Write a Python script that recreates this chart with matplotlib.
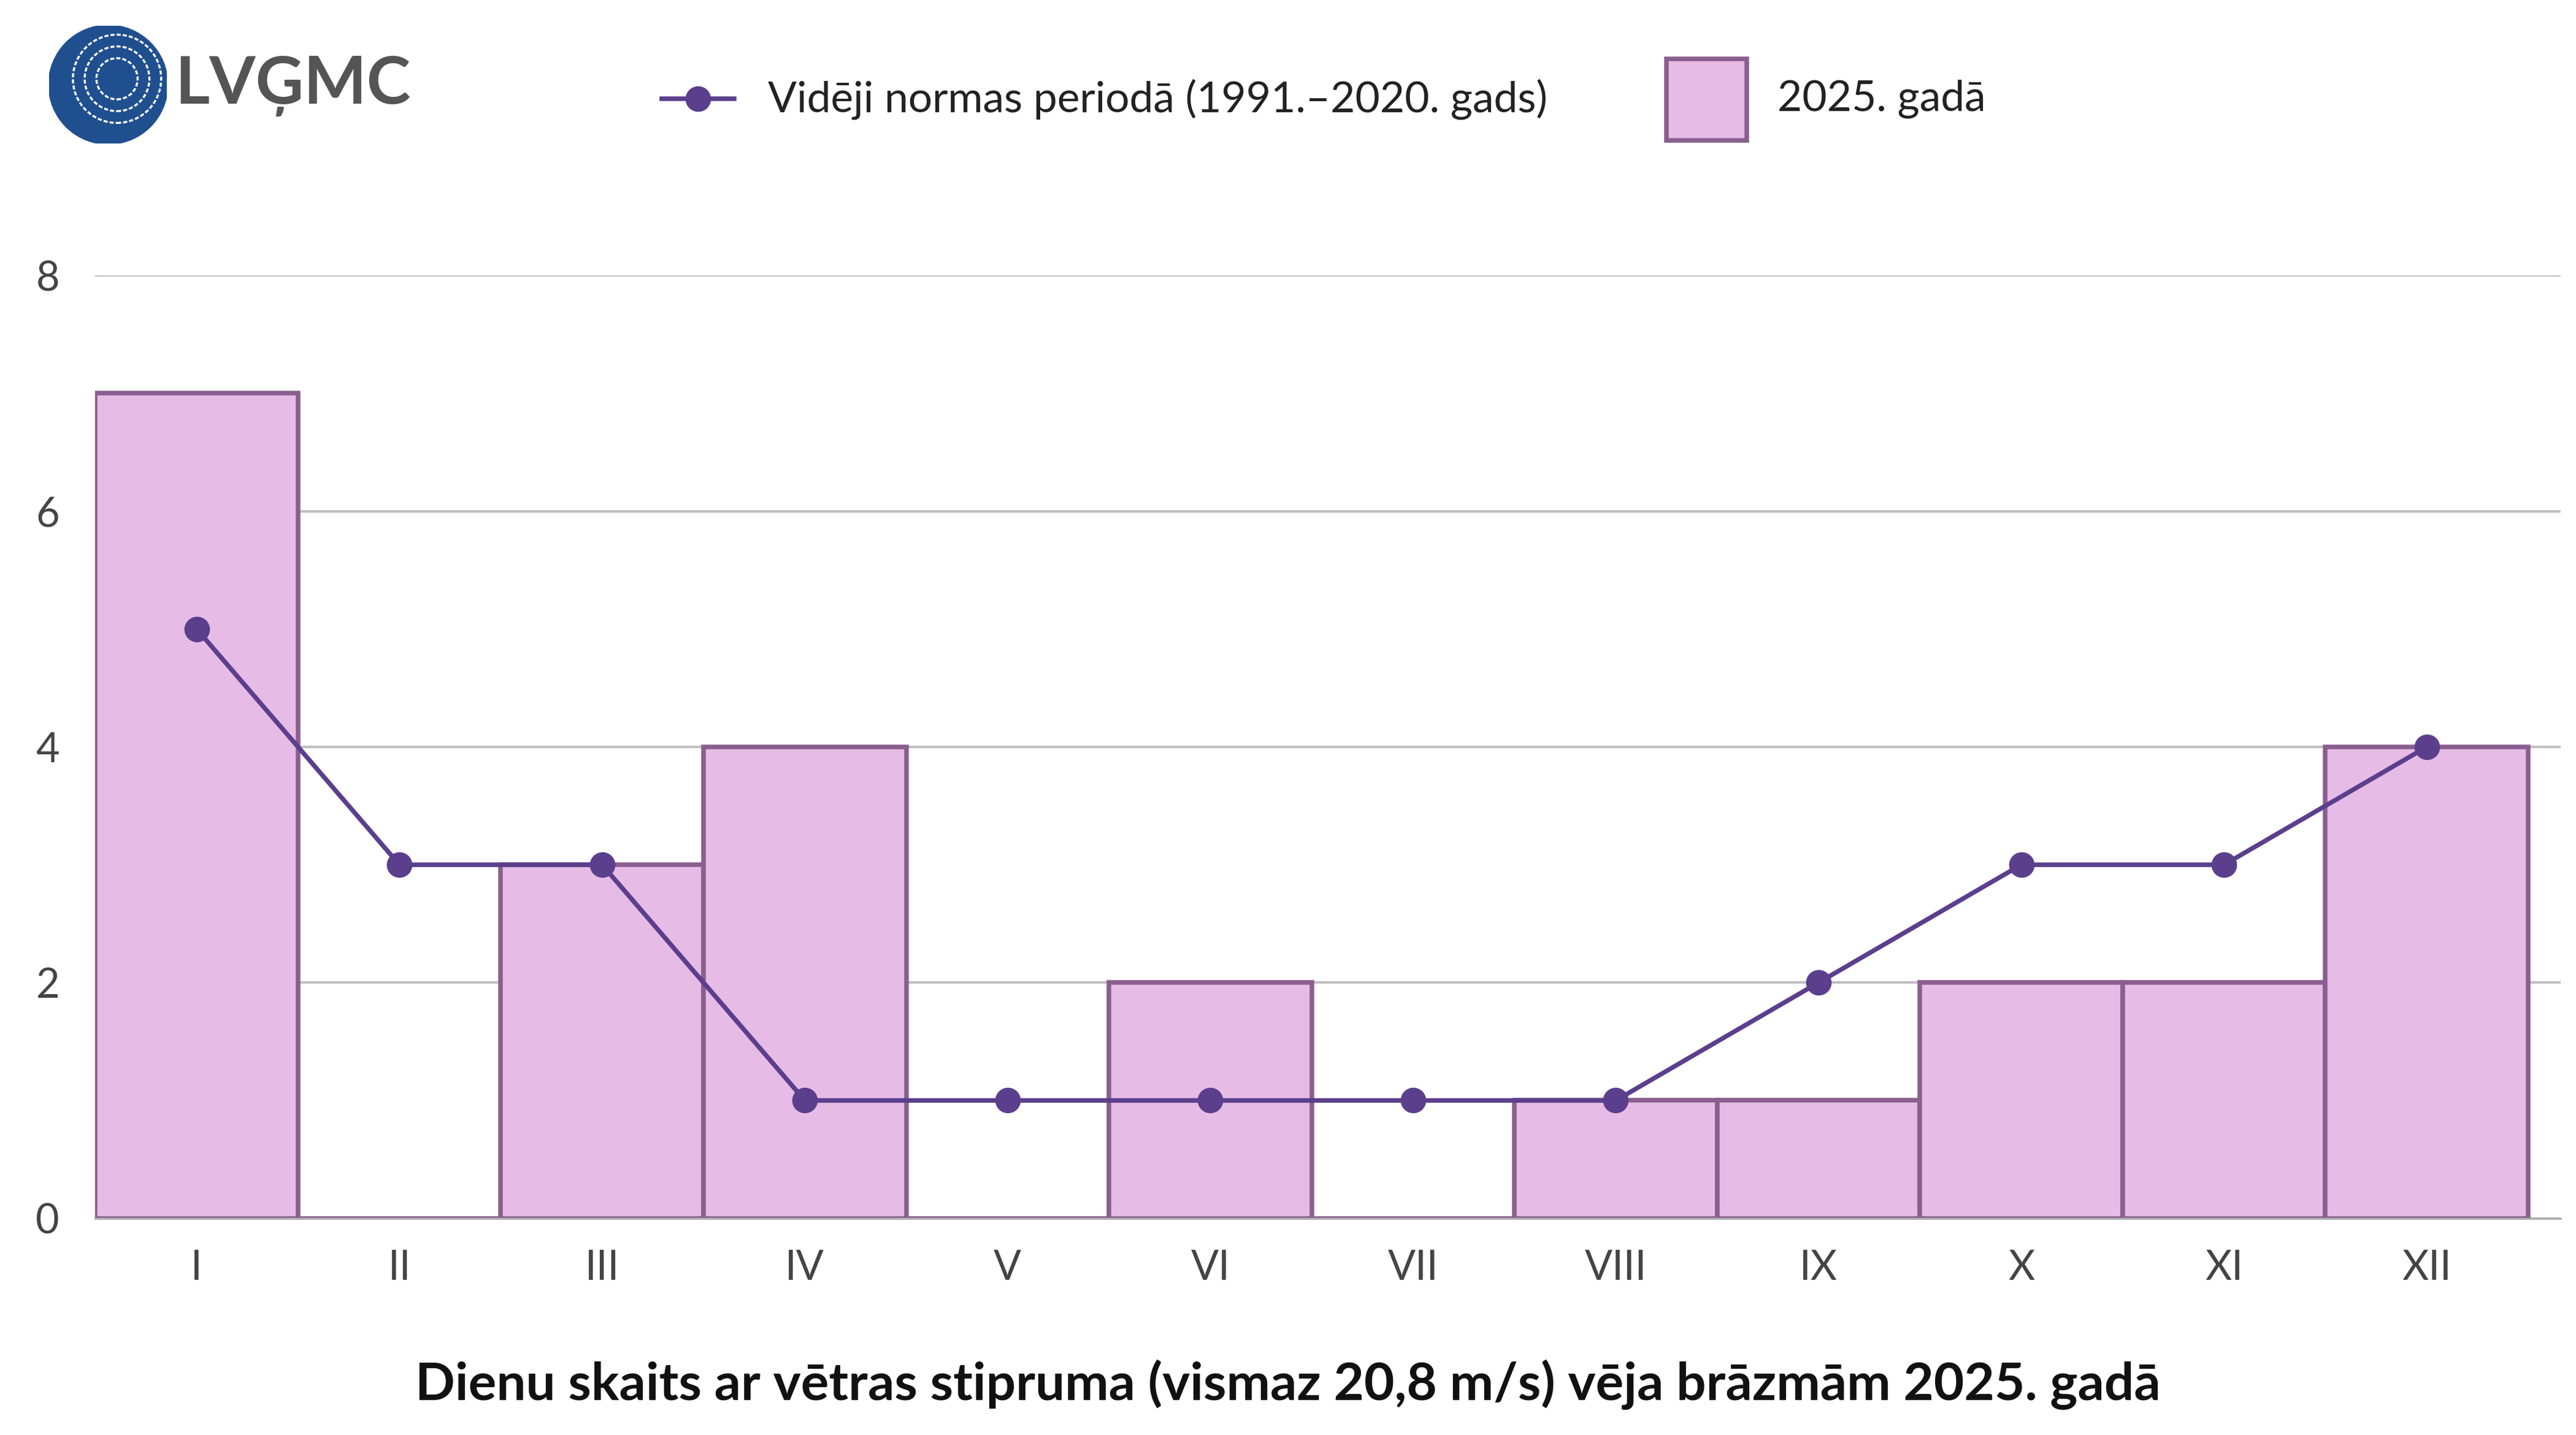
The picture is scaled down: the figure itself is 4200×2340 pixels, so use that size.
import matplotlib
matplotlib.use("Agg")
import matplotlib.pyplot as plt
from matplotlib.patches import Circle, Rectangle
from matplotlib.lines import Line2D

months = ["I","II","III","IV","V","VI","VII","VIII","IX","X","XI","XII"]
days_2025 = [7,0,3,4,0,2,0,1,1,2,2,4]
norm = [5,3,3,1,1,1,1,1,2,3,3,4]
yticks = [0,2,4,6,8]

plt.rcParams['font.family'] = ['Lato', 'DejaVu Sans']
fill = "#e6bce6"; edge = "#8a5e8e"; linec = "#5b3f8c"

fig = plt.figure(figsize=(14, 7.8), dpi=300)
ax = fig.add_axes([0.037, 0.151, 0.957, 0.657])
x = list(range(len(months)))
ax.bar(x, days_2025, width=1.0, color=fill, edgecolor=edge, linewidth=1.8, zorder=2)
ax.plot(x, norm, color=linec, lw=1.8, marker="o", ms=9, zorder=3)
ax.set_xlim(-0.5, 11.6 + 0.06)
ax.set_ylim(0, 8)
ax.set_yticks(yticks)
ax.set_xticks(x)
ax.set_xticklabels(months)
ax.grid(axis="y", color="#c0c0c0", lw=1, zorder=0)
for s in ["top","right","left"]:
    ax.spines[s].set_visible(False)
ax.spines["bottom"].set_color("#b0b0b0")
ax.tick_params(length=0, labelsize=16, colors="#444444", pad=12)
ax.tick_params(axis="y", pad=14)

fig.text(0.5, 0.035, "Dienu skaits ar vētras stipruma (vismaz 20,8 m/s) vēja brāzmām 2025. gadā",
         ha="center", va="center", fontsize=20.5, fontweight="bold", color="#111111")

# legend
fig.add_artist(Line2D([0.257, 0.285], [0.931, 0.931], color=linec, lw=1.8, transform=fig.transFigure))
fig.add_artist(Line2D([0.271], [0.931], color=linec, marker="o", ms=9, transform=fig.transFigure))
fig.text(0.298, 0.931, "Vidēji normas periodā (1991.–2020. gads)", va="center", fontsize=16.7, color="#222222")
fig.add_artist(Rectangle((0.647, 0.902), 0.031, 0.057, facecolor=fill, edgecolor=edge, lw=1.8, transform=fig.transFigure))
fig.text(0.690, 0.931, "2025. gadā", va="center", fontsize=16.7, color="#222222")

# logo
lax = fig.add_axes([0.019, 0.9, 0.046, 0.082])
lax.set_xlim(-1, 1); lax.set_ylim(-1, 1); lax.set_aspect("equal"); lax.axis("off")
lax.add_patch(Circle((0, 0), 1, color="#1f4f8f"))
for r in [0.35, 0.55, 0.75]:
    lax.add_patch(Circle((0.15, 0.1), r, fill=False, ec="white", lw=0.8, ls=(0, (2, 1))))
fig.text(0.068, 0.94, "LVĢMC", va="center", fontsize=26, color="#555555", fontweight="bold")

fig.savefig("out.png", dpi=300)
